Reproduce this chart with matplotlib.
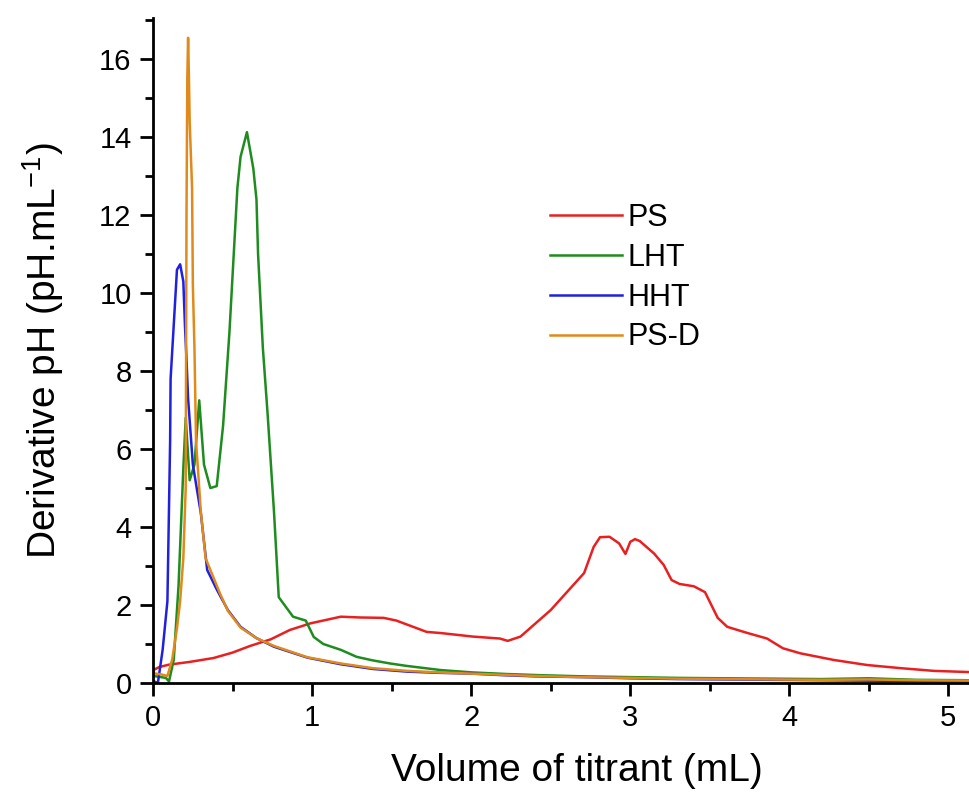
import matplotlib
matplotlib.use("Agg")
import matplotlib.pyplot as plt
from matplotlib.ticker import MultipleLocator

plt.rcParams['font.family'] = ['Liberation Sans', 'DejaVu Sans']

# PS (red)
ps_x = [0.0, 0.01, 0.04, 0.1, 0.23, 0.38, 0.5, 0.61, 0.74, 0.86, 0.99, 1.18, 1.30, 1.45, 1.53, 1.72, 1.81,
        2.01, 2.18, 2.23, 2.31, 2.50, 2.71, 2.77, 2.81, 2.87, 2.93, 2.97, 3.0, 3.03, 3.06, 3.15, 3.21,
        3.26, 3.31, 3.40, 3.47, 3.55, 3.61, 3.73, 3.86, 3.96, 4.07, 4.28, 4.49, 4.70, 4.91, 5.13]
ps_y = [0.30, 0.35, 0.41, 0.47, 0.54, 0.64, 0.78, 0.95, 1.12, 1.36, 1.53, 1.70, 1.68, 1.67, 1.60, 1.31, 1.28,
        1.19, 1.14, 1.08, 1.19, 1.87, 2.82, 3.49, 3.74, 3.75, 3.58, 3.31, 3.62, 3.69, 3.64, 3.32, 3.03,
        2.64, 2.54, 2.48, 2.33, 1.67, 1.44, 1.29, 1.14, 0.89, 0.76, 0.59, 0.46, 0.38, 0.31, 0.28]

# LHT (green)
lht_x = [0.0, 0.05, 0.08, 0.1, 0.13, 0.16, 0.19, 0.205, 0.23, 0.26, 0.29, 0.32, 0.36, 0.40, 0.44, 0.48,
         0.53, 0.55, 0.59, 0.63, 0.65, 0.66, 0.69, 0.72, 0.76, 0.79, 0.88, 0.96, 1.01, 1.07, 1.18, 1.28,
         1.38, 1.49, 1.59, 1.81, 2.01, 2.22, 2.43, 2.7, 3.0, 3.3, 3.6, 3.9, 4.2, 4.5, 4.8, 5.13]
lht_y = [0.18, 0.15, 0.13, 0.04, 0.6, 2.5, 5.5, 6.8, 5.2, 5.6, 7.25, 5.6, 5.0, 5.05, 6.6, 9.0,
         12.7, 13.5, 14.13, 13.2, 12.4, 11.0, 8.6, 6.9, 4.4, 2.2, 1.7, 1.6, 1.18, 1.0, 0.85, 0.67,
         0.58, 0.50, 0.44, 0.33, 0.27, 0.23, 0.20, 0.17, 0.15, 0.13, 0.12, 0.11, 0.10, 0.12, 0.08, 0.07]

# HHT (blue)
hht_x = [0.0, 0.03, 0.06, 0.09, 0.107, 0.11, 0.13, 0.15, 0.17, 0.19, 0.20, 0.21, 0.22, 0.25, 0.30,
         0.34, 0.40, 0.47, 0.55, 0.65, 0.76, 0.97, 1.18, 1.38, 1.6, 1.8, 2.0, 2.2, 2.4, 2.7, 3.0, 3.3,
         3.6, 3.9, 4.2, 4.5, 4.8, 5.13]
hht_y = [0.05, 0.0, 0.85, 2.1, 6.2, 7.8, 9.2, 10.6, 10.74, 10.3, 9.2, 8.3, 7.3, 5.6, 4.36,
         2.9, 2.4, 1.87, 1.44, 1.15, 0.93, 0.65, 0.48, 0.36, 0.29, 0.26, 0.24, 0.20, 0.17, 0.15, 0.12, 0.10,
         0.09, 0.08, 0.07, 0.06, 0.05, 0.04]

# PS-D (orange)
psd_x = [0.0, 0.05, 0.09, 0.12, 0.15, 0.17, 0.19, 0.205, 0.21, 0.215, 0.22, 0.225, 0.23, 0.245, 0.25,
         0.26, 0.27, 0.30, 0.33, 0.36, 0.42, 0.47, 0.55, 0.65, 0.76, 0.97, 1.18, 1.38, 1.6, 1.8, 2.0,
         2.2, 2.4, 2.7, 3.0, 3.3, 3.6, 3.9, 4.2, 4.5, 4.8, 5.13]
psd_y = [0.25, 0.22, 0.18, 0.6, 1.4, 2.1, 3.2, 5.0, 12.0, 15.5, 16.55, 15.6, 14.4, 12.7, 10.2,
         8.6, 6.2, 4.4, 3.2, 2.9, 2.3, 1.85, 1.42, 1.15, 0.95, 0.66, 0.50, 0.38, 0.31, 0.27, 0.24,
         0.21, 0.18, 0.15, 0.13, 0.11, 0.10, 0.09, 0.08, 0.09, 0.07, 0.06]

series = [
    ("PS", ps_x, ps_y, "#e82020"),
    ("LHT", lht_x, lht_y, "#1f8c1f"),
    ("HHT", hht_x, hht_y, "#2020e0"),
    ("PS-D", psd_x, psd_y, "#e08a1c"),
]

fig = plt.figure(figsize=(9.69, 7.96), dpi=100)
ax = fig.add_axes([0.158, 0.142, 0.842, 0.835])

for name, x, y, c in series:
    ax.plot(x, y, color=c, lw=1.8, label=name)

ax.set_xlim(0, 5.13)
ax.set_ylim(0, 17.05)
ax.xaxis.set_major_locator(MultipleLocator(1))
ax.xaxis.set_minor_locator(MultipleLocator(0.5))
ax.yaxis.set_major_locator(MultipleLocator(2))
ax.yaxis.set_minor_locator(MultipleLocator(1))

for s in ["top", "right"]:
    ax.spines[s].set_visible(False)
for s in ["left", "bottom"]:
    ax.spines[s].set_linewidth(2.0)

ax.tick_params(which="major", direction="out", length=9.5, width=2.0, labelsize=21)
ax.tick_params(axis="x", which="major", pad=6)
ax.tick_params(axis="y", which="major", pad=6)
ax.tick_params(which="minor", direction="out", length=6, width=2.0)

ax.set_xlabel("Volume of titrant (mL)", fontsize=28)
ax.set_ylabel("Derivative pH (pH.mL$^{\\mathregular{-1}}$)", fontsize=28, labelpad=24)
ax.xaxis.set_label_coords(0.52, -0.105)

leg = ax.legend(loc="upper left", bbox_to_anchor=(0.4865, 0.722), frameon=False, fontsize=22,
                handlelength=2.35, handletextpad=0.2, labelspacing=0.32, borderaxespad=0, borderpad=0)

fig.savefig("out.png", dpi=100)
